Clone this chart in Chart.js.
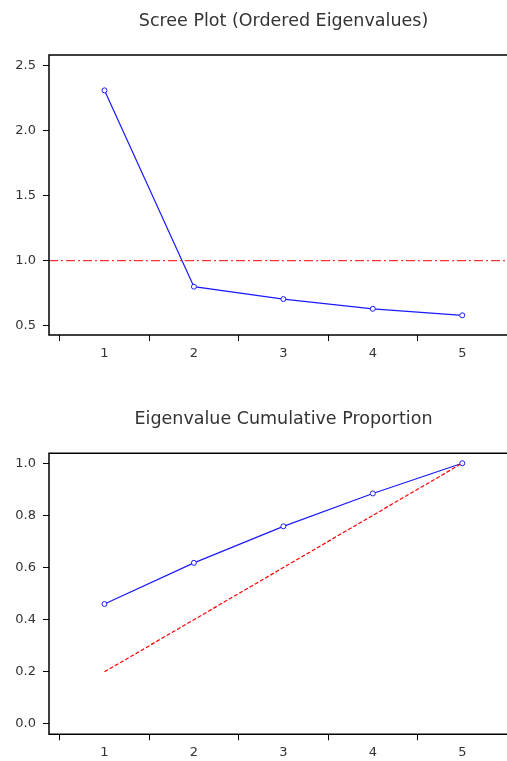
<!DOCTYPE html>
<html>
<head>
<meta charset="utf-8">
<title>Scree Plot</title>
<script src="https://cdn.jsdelivr.net/npm/chart.js@4.4.0/dist/chart.umd.min.js"></script>
<style>
  body { margin: 0; background: #fff; overflow: hidden; }
  .panel { position: relative; width: 507px; overflow: hidden; }
  .panel canvas { display: block; }
  .title {
    position: absolute;
    left: 283.5px;
    transform: translateX(-50%);
    white-space: nowrap;
    font-family: "DejaVu Sans", sans-serif;
    font-size: 17.5px;
    line-height: 21px;
    color: #333;
  }
</style>
</head>
<body>
<div class="panel" style="height:380px">
  <div class="title" style="top:9.5px">Scree Plot (Ordered Eigenvalues)</div>
  <canvas id="screeChart" width="512" height="380"></canvas>
</div>
<div class="panel" style="height:381px">
  <div class="title" style="top:27.5px">Eigenvalue Cumulative Proportion</div>
  <canvas id="cumChart" width="512" height="381"></canvas>
</div>
<script>
// ---------- Data ----------
const components = [1, 2, 3, 4, 5];
const eigenvalues = [2.31, 0.80, 0.705, 0.63, 0.58];
const cumulativeProportion = [0.46, 0.618, 0.758, 0.884, 1.0];
const equalProportion = [0.2, 0.4, 0.6, 0.8, 1.0];
const kaiserLevel = 1.0;
const screeTicks = [0.5, 1.0, 1.5, 2.0, 2.5];
const cumTicks = [0.0, 0.2, 0.4, 0.6, 0.8, 1.0];

// x tick marks sit between components, labels on the components
const xTicks = [];
components.forEach(c => { xTicks.push(c - 0.5, c); });
xTicks.push(components[components.length - 1] + 0.5);

const BLUE = "#1a1aff";
const RED = "#ff0000";

Chart.defaults.font.family = "'DejaVu Sans', sans-serif";
Chart.defaults.color = "#333";

// ---------- Plugins ----------
// open frame: left, top and bottom (right side runs off the picture)
const framePlugin = {
  id: "frame",
  afterDraw(chart) {
    const { ctx, chartArea: a } = chart;
    ctx.save();
    ctx.strokeStyle = "#000";
    ctx.lineWidth = 1.5;
    ctx.beginPath();
    ctx.moveTo(chart.width, a.top);
    ctx.lineTo(a.left, a.top);
    ctx.lineTo(a.left, a.bottom);
    ctx.lineTo(chart.width, a.bottom);
    ctx.stroke();
    ctx.restore();
  },
};

const kaiserPlugin = {
  id: "kaiser",
  beforeDatasetsDraw(chart) {
    const { ctx, chartArea: a, scales } = chart;
    const y = scales.y.getPixelForValue(kaiserLevel);
    ctx.save();
    ctx.strokeStyle = RED;
    ctx.lineWidth = 1;
    ctx.setLineDash([9, 3, 2, 3]);
    ctx.beginPath();
    ctx.moveTo(a.left, y);
    ctx.lineTo(a.right, y);
    ctx.stroke();
    ctx.restore();
  },
};

// ---------- Options ----------
function makeOptions(yMin, yMax, yTicks, topPad, xHeight) {
  return {
    responsive: false,
    animation: false,
    layout: { padding: { top: topPad } },
    plugins: {
      legend: { display: false },
      tooltip: { enabled: false },
      title: { display: false },
    },
    scales: {
      x: {
        type: "linear",
        min: 0.38,
        max: 5.5,
        afterBuildTicks: s => { s.ticks = xTicks.map(v => ({ value: v })); },
        afterFit: s => { s.height = xHeight; },
        border: { display: false },
        grid: {
          drawOnChartArea: false,
          tickLength: 6,
          tickColor: c => (Number.isInteger(c.tick.value) ? "rgba(0,0,0,0)" : "#000"),
        },
        ticks: {
          autoSkip: false,
          maxRotation: 0,
          padding: 5,
          font: { size: 13 },
          color: "#333",
          callback: v => (Number.isInteger(v) ? String(v) : ""),
        },
      },
      y: {
        type: "linear",
        min: yMin,
        max: yMax,
        afterBuildTicks: s => { s.ticks = yTicks.map(v => ({ value: v })); },
        afterFit: s => { s.width = 49; },
        border: { display: false },
        grid: { drawOnChartArea: false, tickLength: 6, tickColor: "#000" },
        ticks: {
          padding: 7,
          font: { size: 13 },
          color: "#333",
          callback: v => v.toFixed(1),
        },
      },
    },
  };
}

function points(ys) {
  return components.map((c, i) => ({ x: c, y: ys[i] }));
}

// ---------- Scree Plot ----------
new Chart(document.getElementById("screeChart"), {
  type: "line",
  data: {
    datasets: [
      {
        data: points(eigenvalues),
        borderColor: BLUE,
        borderWidth: 1.2,
        pointRadius: 2.5,
        pointBorderWidth: 1,
        pointBackgroundColor: "#fff",
        pointBorderColor: BLUE,
        tension: 0,
      },
    ],
  },
  options: makeOptions(0.4285, 2.582, screeTicks, 55, 45),
  plugins: [kaiserPlugin, framePlugin],
});

// ---------- Cumulative Proportion ----------
new Chart(document.getElementById("cumChart"), {
  type: "line",
  data: {
    datasets: [
      {
        data: points(equalProportion),
        borderColor: RED,
        borderWidth: 1.2,
        borderDash: [4, 2],
        pointRadius: 0,
        tension: 0,
      },
      {
        data: points(cumulativeProportion),
        borderColor: BLUE,
        borderWidth: 1.2,
        pointRadius: 2.5,
        pointBorderWidth: 1,
        pointBackgroundColor: "#fff",
        pointBorderColor: BLUE,
        tension: 0,
      },
    ],
  },
  options: makeOptions(-0.0395, 1.038, cumTicks, 73.3, 26.7),
  plugins: [framePlugin],
});
</script>
</body>
</html>
